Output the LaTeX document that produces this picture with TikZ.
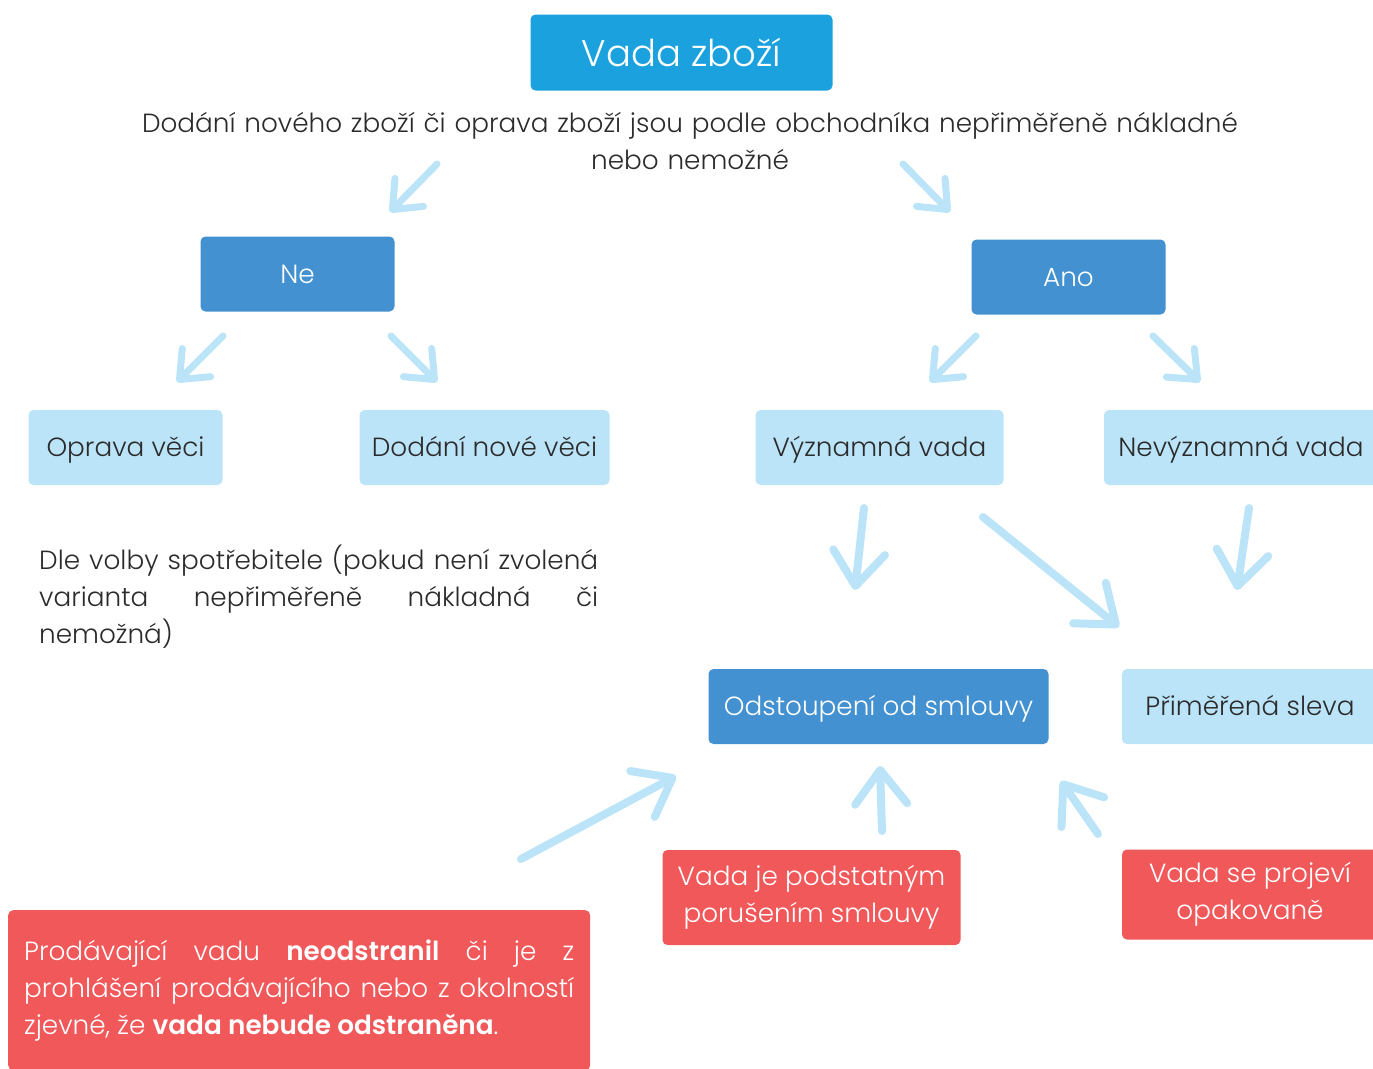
\documentclass[tikz,border=0pt]{standalone}
\usepackage{fontspec}
\setmainfont{Poppins}[UprightFont={* Light}, BoldFont={* SemiBold}]
\usetikzlibrary{positioning,arrows.meta}
\definecolor{titleblue}{HTML}{1BA1DE}
\definecolor{midblue}{HTML}{4391D0}
\definecolor{paleblue}{HTML}{BCE4F9}
\definecolor{alertred}{HTML}{F0585A}
\definecolor{ink}{HTML}{2B2B2B}
\hyphenpenalty=10000

\begin{document}
\begin{tikzpicture}[x=1pt, y=-1pt,
        every node/.style = {shape=rectangle, rounded corners=5pt, inner sep=0pt,
                             align=center, text=ink,
                             font=\fontsize{26.3}{37}\selectfont},
        onerow/.style = {text height=23pt, text depth=5pt},
        darkbox/.style = {onerow, fill=midblue, text=white, minimum height=75pt},
        palebox/.style = {onerow, fill=paleblue, minimum height=75pt},
        redbox/.style = {fill=alertred, text=white},
        hand/.style = {draw=paleblue, line width=7pt, line cap=round,
                       -{Straight Barb[length=24pt, width=40pt, round]}},
        bighand/.style = {hand, line width=8pt,
                          -{Straight Barb[length=34pt, width=52pt, round]}}]
    \useasboundingbox (0,0) rectangle (1373,1068);
    \clip (0,0) rectangle (1373,1068);

    \node[fill=titleblue, text=white, minimum width=302pt, minimum height=76pt,
          font=\fontsize{37}{40}\selectfont] (title) at (681.5,52.5) {Vada zboží};
    \node[text width=1120pt] (question) at (690,140.5)
        {Dodání nového zboží či oprava zboží jsou podle obchodníka nepřiměřeně nákladné\\ nebo nemožné};

    \node[darkbox, minimum width=194pt] (ne) at (297.5,274) {Ne};
    \node[darkbox, minimum width=194pt] (ano) at (1068.5,277) {Ano};

    \node[palebox, minimum width=194pt] (oprava) at (125.5,447.5) {Oprava věci};
    \node[palebox, minimum width=250pt] (dodani) at (484.5,447.5) {Dodání nové věci};
    \node[palebox, minimum width=248pt] (vyznamna) at (879.5,447.5) {Významná vada};
    \node[palebox, minimum width=274pt] (nevyznamna) at (1241,447.5) {Nevýznamná vada};

    \node[text width=559pt, align=justify, anchor=north west] (volba) at (39,545)
        {Dle volby spotřebitele (pokud není zvolená\linebreak varianta nepřiměřeně nákladná či\linebreak nemožná)};

    \node[darkbox, minimum width=340pt] (odstoupeni) at (878.5,706.5) {Odstoupení od smlouvy};
    \node[palebox, minimum width=256pt] (sleva) at (1250,706.5) {Přiměřená sleva};

    \node[redbox, minimum width=298pt, minimum height=95pt] (podstatne) at (811.5,897.5)
        {Vada je podstatným\\ porušením smlouvy};
    \node[redbox, minimum width=256pt, minimum height=90pt] (opakovane) at (1250,894.5)
        {Vada se projeví\\ opakovaně};
    \node[redbox, minimum width=582pt, minimum height=160pt, text width=550pt,
          align=justify, anchor=north west] (neodstranil) at (8,910)
        {Prodávající vadu \textbf{neodstranil} či je z\linebreak prohlášení prodávajícího nebo z okolností zjevné, že \textbf{vada nebude odstraněna}.};

    % arrow ends
    \coordinate (q-ne)   at (437,164);  \coordinate (ne-top)   at (390,212);
    \coordinate (q-ano)  at (903,164);  \coordinate (ano-top)  at (950,212);
    \coordinate (ne-l)   at (223,336);  \coordinate (opr-top)  at (177,382);
    \coordinate (ne-r)   at (391,336);  \coordinate (dod-top)  at (437,382);
    \coordinate (ano-l)  at (976,336);  \coordinate (vyz-top)  at (930,382);
    \coordinate (ano-r)  at (1153,336); \coordinate (nev-top)  at (1200,382);
    \coordinate (vyz-b)  at (864,508);  \coordinate (vyz-dn)   at (855,590);
    \coordinate (vyz-br) at (983,517);  \coordinate (sleva-tl) at (1119,627);
    \coordinate (nev-b)  at (1249,508); \coordinate (nev-dn)   at (1237,590);
    \coordinate (red-l)  at (521,859);  \coordinate (ods-bl)   at (676,776);
    \coordinate (pod-t)  at (882,831);  \coordinate (ods-b)    at (880,766);
    \coordinate (opa-t)  at (1098,834); \coordinate (ods-br)   at (1061,781);

    \draw [hand] (q-ne) -- (ne-top);
    \draw [hand] (q-ano) -- (ano-top);
    \draw [hand] (ne-l) -- (opr-top);
    \draw [hand] (ne-r) -- (dod-top);
    \draw [hand] (ano-l) -- (vyz-top);
    \draw [hand] (ano-r) -- (nev-top);
    \draw [bighand] (vyz-b) -- (vyz-dn);
    \draw [bighand] (vyz-br) -- (sleva-tl);
    \draw [bighand] (nev-b) -- (nev-dn);
    \draw [bighand] (red-l) -- (ods-bl);
    \draw [bighand] (pod-t) -- (ods-b);
    \draw [bighand] (opa-t) -- (ods-br);
\end{tikzpicture}
\end{document}
